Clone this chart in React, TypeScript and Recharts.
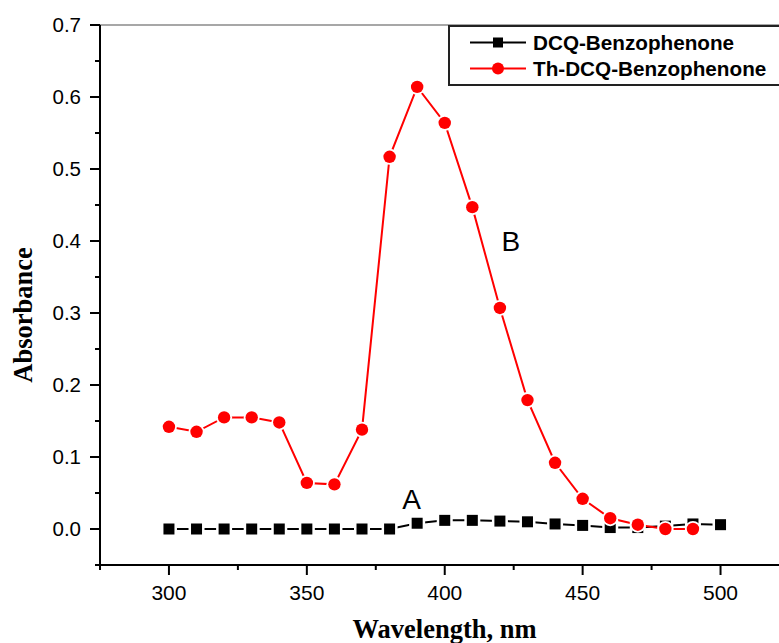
import React from 'react';
import { LineChart, Line, XAxis, YAxis, ReferenceLine, ReferenceDot, Legend } from 'recharts';

// Absorption spectra, wavelength in nm
const wavelengths = [300, 310, 320, 330, 340, 350, 360, 370, 380, 390, 400, 410, 420, 430, 440, 450, 460, 470, 480, 490, 500];
const dcqBenzophenone = [0, 0, 0, 0, 0, 0, 0, 0, 0, 0.008, 0.012, 0.012, 0.011, 0.01, 0.007, 0.005, 0.002, 0.002, 0.004, 0.007, 0.006];
const thDcqBenzophenone = [0.142, 0.135, 0.155, 0.155, 0.148, 0.064, 0.062, 0.138, 0.517, 0.614, 0.564, 0.447, 0.307, 0.179, 0.092, 0.042, 0.015, 0.006, 0, 0, null];

const seriesNames = ['DCQ-Benzophenone', 'Th-DCQ-Benzophenone'];
const seriesColors = ['#000000', '#ff0000'];

const xMajorTicks = [300, 350, 400, 450, 500];
const xMinorTicks = [275, 325, 375, 425, 475];
const yMajorTicks = [0, 0.1, 0.2, 0.3, 0.4, 0.5, 0.6, 0.7];
const yMinorTicks = [-0.05, 0.05, 0.15, 0.25, 0.35, 0.45, 0.55, 0.65];

const curveLabels = [
  { text: 'A', x: 388, y: 0.041 },
  { text: 'B', x: 424, y: 0.4 },
];

const data = wavelengths.map((w, i) => ({
  w,
  a: dcqBenzophenone[i],
  b: thDcqBenzophenone[i],
}));

const SANS = "Arial, 'Liberation Sans', Helvetica, sans-serif";
const SERIF = "'Times New Roman', 'Liberation Serif', Times, serif";

const xTicks = [...xMinorTicks, ...xMajorTicks].sort((p, q) => p - q);
const yTicks = [...yMinorTicks, ...yMajorTicks].sort((p, q) => p - q);

const XTick = (props: any) => {
  const { x, y, payload } = props;
  const major = xMajorTicks.includes(payload.value);
  return (
    <g>
      <line x1={x} x2={x} y1={y} y2={y + (major ? 10 : 5)} stroke="#000" strokeWidth={2} />
      {major && (
        <text x={x} y={y + 35} textAnchor="middle" fontFamily={SANS} fontSize={21} fill="#000">
          {payload.value}
        </text>
      )}
    </g>
  );
};

const YTick = (props: any) => {
  const { x, y, payload } = props;
  const major = yMajorTicks.some((t) => Math.abs(t - payload.value) < 1e-9);
  return (
    <g>
      <line x1={x} x2={x - (major ? 10 : 5)} y1={y} y2={y} stroke="#000" strokeWidth={2} />
      {major && (
        <text x={x - 19} y={y} dy="0.36em" textAnchor="end" fontFamily={SANS} fontSize={20.5} fill="#000">
          {payload.value.toFixed(1)}
        </text>
      )}
    </g>
  );
};

const SquareDot = (props: any) => {
  const { cx, cy, index } = props;
  if (cx == null || cy == null) return <g key={`s${index}`} />;
  return (
    <g key={`s${index}`}>
      <rect x={cx - 8} y={cy - 8} width={16} height={16} fill="#fff" />
      <rect x={cx - 5.5} y={cy - 5.5} width={11} height={11} fill={seriesColors[0]} />
    </g>
  );
};

const CircleDot = (props: any) => {
  const { cx, cy, index } = props;
  if (cx == null || cy == null) return <g key={`c${index}`} />;
  return (
    <g key={`c${index}`}>
      <circle cx={cx} cy={cy} r={8} fill="#fff" />
      <circle cx={cx} cy={cy} r={6.2} fill={seriesColors[1]} />
    </g>
  );
};

const LegendBox = () => (
  <svg width={331} height={61} style={{ display: 'block' }}>
    <polyline points="331,1 1,1 1,60 331,60" fill="none" stroke="#222" strokeWidth={2} />
    {seriesNames.map((name, i) => {
      const cy = i === 0 ? 17.5 : 43.5;
      return (
        <g key={name}>
          <line x1={22} x2={78} y1={cy} y2={cy} stroke={seriesColors[i]} strokeWidth={2} />
          {i === 0 ? (
            <rect x={45} y={cy - 5} width={10} height={10} fill={seriesColors[0]} />
          ) : (
            <circle cx={50} cy={cy} r={6} fill={seriesColors[1]} />
          )}
          <text x={85} y={cy + 7} fontFamily={SANS} fontWeight="bold" fontSize={20.7} fill="#000">
            {name}
          </text>
        </g>
      );
    })}
  </svg>
);

export default function App() {
  return (
    <div style={{ position: 'absolute', left: 0, top: 0, width: 779, height: 643, background: '#fff' }}>
      <LineChart width={779} height={643} data={data} margin={{ top: 25, right: 0, bottom: 0, left: 0 }}>
        <XAxis
          dataKey="w"
          type="number"
          domain={[275, 521.2]}
          allowDataOverflow
          ticks={xTicks}
          interval={0}
          tickLine={false}
          tickSize={0}
          tickMargin={0}
          tick={<XTick />}
          axisLine={{ stroke: '#000', strokeWidth: 2 }}
          height={78}
          label={{
            content: (p: any) => {
              const vb = p.viewBox;
              return (
                <text
                  x={vb.x + vb.width / 2 + 5}
                  y={vb.y + 73}
                  textAnchor="middle"
                  fontFamily={SERIF}
                  fontWeight="bold"
                  fontSize={26.5}
                  fill="#000"
                >
                  Wavelength, nm
                </text>
              );
            },
          }}
        />
        <YAxis
          type="number"
          domain={[-0.05, 0.7]}
          allowDataOverflow
          ticks={yTicks}
          interval={0}
          tickLine={false}
          tickSize={0}
          tickMargin={0}
          tick={<YTick />}
          axisLine={{ stroke: '#000', strokeWidth: 2 }}
          width={100}
          label={{
            content: (p: any) => {
              const vb = p.viewBox;
              const cx = vb.x + 23;
              const cy = vb.y + vb.height / 2 + 20;
              return (
                <text
                  x={cx}
                  y={cy}
                  transform={`rotate(-90 ${cx} ${cy})`}
                  textAnchor="middle"
                  dominantBaseline="central"
                  fontFamily={SERIF}
                  fontWeight="bold"
                  fontSize={26.5}
                  fill="#000"
                >
                  Absorbance
                </text>
              );
            },
          }}
        />
        <ReferenceLine y={0.7} stroke="#8a8a8a" strokeWidth={1.5} />
        <Line
          dataKey="a"
          name={seriesNames[0]}
          stroke={seriesColors[0]}
          strokeWidth={2}
          dot={(p: any) => <SquareDot {...p} key={`s${p.index}`} />}
          activeDot={false}
          isAnimationActive={false}
        />
        <Line
          dataKey="b"
          name={seriesNames[1]}
          stroke={seriesColors[1]}
          strokeWidth={2}
          dot={(p: any) => <CircleDot {...p} key={`c${p.index}`} />}
          activeDot={false}
          isAnimationActive={false}
        />
        {curveLabels.map((l) => (
          <ReferenceDot
            key={l.text}
            x={l.x}
            y={l.y}
            r={0}
            fill="none"
            stroke="none"
            label={{ value: l.text, position: 'center', fontFamily: SANS, fontSize: 28, fill: '#000' }}
          />
        ))}
        <Legend
          layout="vertical"
          align="center"
          verticalAlign="middle"
          content={() => <LegendBox />}
          wrapperStyle={{ left: 448, top: 25, width: 331, height: 61 }}
        />
      </LineChart>
    </div>
  );
}
